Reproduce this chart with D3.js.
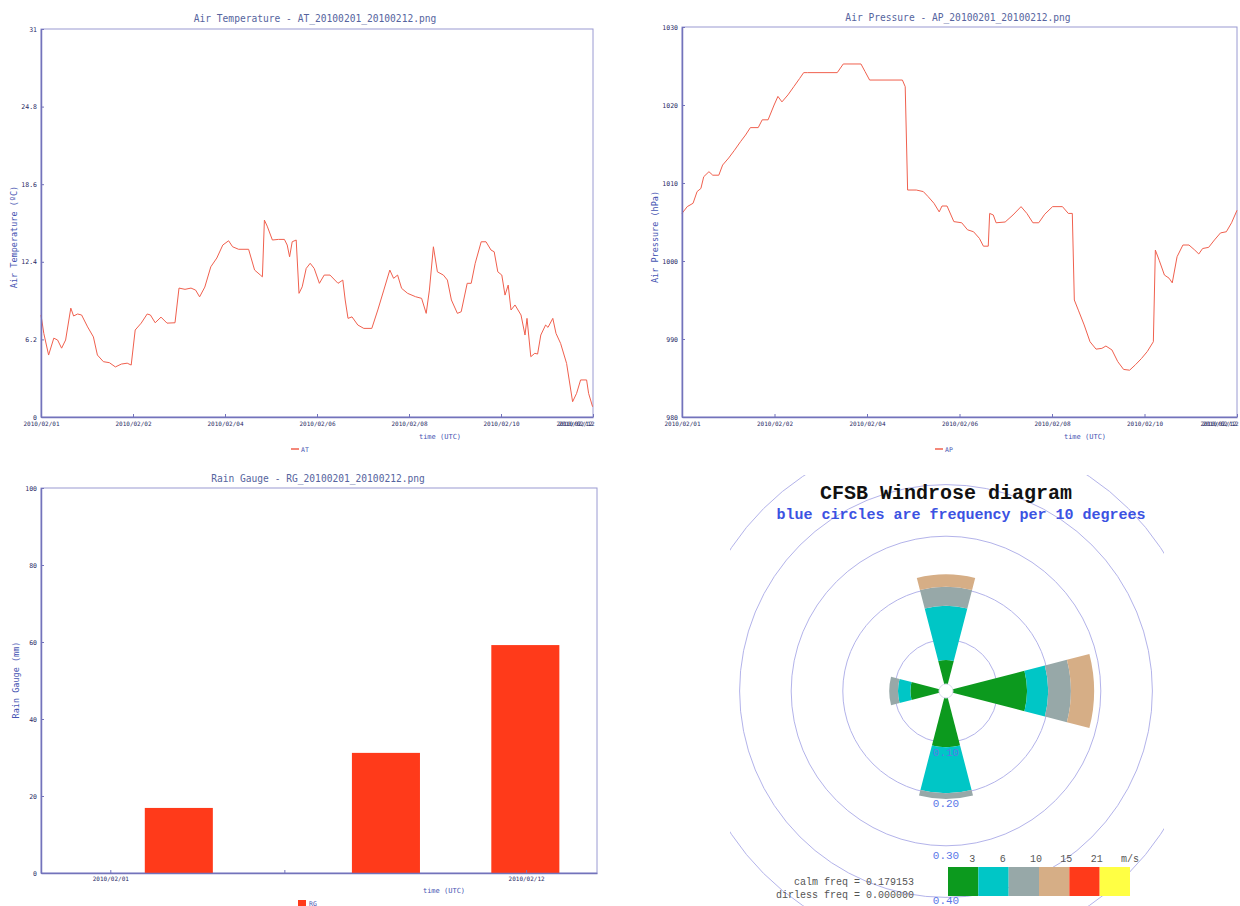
<!DOCTYPE html>
<html>
<head>
<meta charset="utf-8">
<script src="https://cdn.jsdelivr.net/npm/d3@7"></script>
<style>
  body { margin: 0; background: #fff; }
  svg { display: block; }
</style>
</head>
<body>
<svg id="chart" width="1240" height="906"></svg>
<script>
// ---- data ----------------------------------------------------------------
// hours after 2010-02-01 00:00 UTC
const spanHours = 276;
const tickHours = [0, 46, 92, 138, 184, 230, 276];

const atHours = [0, 1.4, 3.8, 6.4, 8.3, 10.3, 12.3, 14.9, 16.3, 18.3, 20.3, 23.3, 26.2, 28.2,
  31.2, 34.2, 37.2, 40.2, 43.1, 45.1, 47.1, 50.1, 53.1, 54.7, 57.1, 60.0, 63.0, 67.0, 69.0,
  72.0, 75.0, 77.3, 79.3, 81.9, 84.9, 87.9, 90.9, 93.8, 95.8, 98.8, 103.8, 106.8, 109.7, 110.7,
  111.7, 113.1, 115.7, 118.7, 121.7, 123.1, 124.3, 125.6, 127.6, 129.0, 130.6, 132.6, 134.6,
  136.6, 139.2, 141.6, 144.5, 148.5, 150.9, 152.1, 153.5, 155.5, 158.4, 161.4, 165.4, 168.4,
  171.4, 174.4, 176.3, 178.3, 180.3, 183.3, 187.3, 190.3, 192.6, 194.2, 196.2, 198.2, 201.2,
  203.2, 205.2, 208.2, 210.1, 213.1, 215.1, 217.1, 220.1, 222.5, 225.0, 226.6, 228.4, 230.4,
  232.0, 233.6, 235.0, 237.0, 240.0, 242.0, 243.0, 244.9, 246.9, 248.3, 249.9, 252.3, 253.5,
  255.9, 257.5, 259.8, 262.8, 265.8, 267.8, 269.8, 272.8, 273.8, 275.8];
const atValues = [8.15, 6.68, 4.95, 6.3, 6.15, 5.5, 6.15, 8.7, 8.07, 8.23, 8.15, 7.2, 6.4, 4.95,
  4.42, 4.34, 4.0, 4.23, 4.3, 4.15, 6.95, 7.5, 8.23, 8.15, 7.53, 7.98, 7.5, 7.53, 10.3,
  10.2, 10.3, 10.14, 9.6, 10.38, 12.0, 12.7, 13.74, 14.08, 13.6, 13.4, 13.4, 11.74, 11.34, 11.2,
  15.73, 15.25, 14.14, 14.19, 14.19, 13.74, 12.8, 14.0, 14.14, 9.88, 10.4, 11.87, 12.28,
  11.87, 10.68, 11.34, 11.34, 10.68, 10.94, 9.35, 7.88, 8.0, 7.35, 7.08, 7.08, 8.55,
  10.14, 11.74, 11.08, 11.34, 10.28, 9.88, 9.61, 9.48, 8.28, 10.14, 13.6, 11.6, 11.34,
  10.94, 9.35, 8.28, 8.41, 10.68, 10.68, 12.28, 14.0, 14.0, 13.34, 13.2, 11.6, 11.34,
  9.74, 10.54, 8.55, 8.95, 8.15, 6.55, 7.88, 4.82, 5.09, 5.03, 6.55, 7.35, 7.16,
  7.88, 6.68, 5.88, 4.28, 1.22, 1.89, 2.96, 2.96, 1.89, 0.82];
const atTicks = [0, 6.2, 12.4, 18.6, 24.8, 31];

const apHours = [0, 2.6, 5.5, 7.5, 9.4, 10.8, 13.4, 15.3, 18.3, 20.2, 23.2, 26.1, 29.1, 31.6,
  34.0, 37.9, 39.9, 42.8, 45.8, 47.7, 49.7, 52.7, 55.6, 58.5, 60.5, 62.5, 77.2, 80.2, 89.0,
  91.0, 93.3, 109.6, 111.0, 112.2, 116.5, 120.0, 122.4, 125.3, 127.9, 129.3, 131.8, 135.2,
  139.1, 142.0, 145.0, 147.9, 149.9, 152.3, 153.0, 154.8, 156.2, 160.7, 164.6, 168.6, 171.5,
  174.5, 177.4, 180.4, 184.3, 189.2, 192.1, 194.1, 195.1, 197.1, 200.0, 202.9, 205.9, 208.8,
  210.8, 213.8, 216.7, 219.6, 222.6, 225.5, 228.5, 231.4, 234.4, 235.4, 237.3, 239.9, 242.2,
  243.8, 246.2, 249.1, 252.1, 255.0, 257.0, 258.9, 261.9, 264.8, 267.8, 270.7, 273.3, 276.0];
const apValues = [1006.1, 1006.97, 1007.4, 1008.9, 1009.3, 1010.8, 1011.45, 1011.0, 1011.0,
  1012.3, 1013.2, 1014.2, 1015.3, 1016.15, 1017.1, 1017.1, 1018.1, 1018.1, 1020.0, 1021.1,
  1020.4, 1021.3, 1022.35, 1023.4, 1024.15, 1024.15, 1024.15, 1025.26, 1025.26, 1024.3,
  1023.2, 1023.2, 1022.35, 1009.1, 1009.1, 1008.9, 1008.25, 1007.4, 1006.3, 1007.05, 1007.05,
  1005.05, 1004.9, 1004.0, 1003.75, 1002.9, 1001.9, 1001.9, 1006.1, 1005.9, 1004.9, 1005.0,
  1005.9, 1006.97, 1006.1, 1004.9, 1004.9, 1006.0, 1006.97, 1006.97, 1006.1, 1006.1, 995.0,
  993.7, 991.8, 989.65, 988.7, 988.8, 989.1, 988.6, 987.1, 986.1, 986.0, 986.7, 987.5, 988.4,
  989.65, 1001.4, 1000.1, 998.2, 997.8, 997.2, 1000.55, 1002.05, 1002.05, 1001.4, 1000.9,
  1001.6, 1001.75, 1002.7, 1003.6, 1003.75, 1004.9, 1006.5];
const apTicks = [980, 990, 1000, 1010, 1020, 1030];

const rgDates = ['2010-02-02T19:30Z', '2010-02-08T07:00Z', '2010-02-11T23:30Z'];
const rgValues = [16.9, 31.2, 59.2];
const rgTickDates = ['2010-02-01T00:00Z', '2010-02-05T14:30Z', '2010-02-12T00:00Z'];
const rgTickLabels = ['2010/02/01', '', '2010/02/12'];
const rgTicks = [0, 20, 40, 60, 80, 100];

// windrose: frequency per speed class for each direction
const roseDirs = [0, 90, 180, 270];
const freqN = [0.060, 0.105, 0.037, 0.024, 0, 0];
const freqE = [0.157, 0.041, 0.044, 0.045, 0, 0];
const freqS = [0.109, 0.089, 0.011, 0, 0, 0];
const freqW = [0.069, 0.024, 0.017, 0, 0, 0];
const roseRings = [0.1, 0.2, 0.3, 0.4, 0.5];
const ringLabels = ['0.10', '0.20', '0.30', '0.40'];
const speedLabels = ['3', '6', '10', '15', '21', 'm/s'];
const speedColors = ['#0c9a1e', '#00c6c6', '#97a8a8', '#d6ae86', '#ff3a1a', '#ffff44'];

// ---- drawing ---------------------------------------------------------------
const mono = '"DejaVu Sans Mono", monospace';
const courier = '"Liberation Mono", "Courier New", monospace';
const frameColor = '#9a9ad2';
const axisColor = '#7373bb';
const tickColor = '#2a2a66';
const titleColor = '#56649e';
const yTitleColor = '#4654b2';
const lineColor = '#f0604e';

const t0 = Date.UTC(2010, 1, 1);
const hr = h => new Date(t0 + h * 36e5);
const fmt = d3.utcFormat('%Y/%m/%d');

const svg = d3.select('#chart');
svg.append('rect').attr('width', 1240).attr('height', 906).attr('fill', '#fff');

function styleAxis(g, size) {
  g.attr('font-family', mono).attr('font-size', size);
  g.select('.domain').attr('stroke', axisColor).attr('stroke-width', 1.5);
  g.selectAll('.tick line').attr('stroke', axisColor);
  g.selectAll('.tick text').attr('fill', tickColor);
}

function panelText(g, o) {
  g.append('text')
   .attr('x', o.titleX).attr('y', o.titleY)
   .attr('text-anchor', 'middle')
   .attr('font-family', mono).attr('font-size', 9.6)
   .attr('fill', titleColor)
   .text(o.title);

  g.append('text')
   .attr('transform', `translate(${o.yTitleX},${o.yTitleY}) rotate(-90)`)
   .attr('text-anchor', 'middle')
   .attr('font-family', mono).attr('font-size', 8.5)
   .attr('fill', yTitleColor)
   .text(o.yTitle);

  g.append('text')
   .attr('x', o.timeX).attr('y', o.timeY)
   .attr('text-anchor', 'middle')
   .attr('font-family', mono).attr('font-size', 7)
   .attr('fill', yTitleColor)
   .text('time (UTC)');
}

function frame(g, o) {
  g.append('rect')
   .attr('x', o.left).attr('y', o.top)
   .attr('width', o.right - o.left).attr('height', o.bottom - o.top)
   .attr('fill', 'none').attr('stroke', frameColor).attr('stroke-width', 1);
}

function seriesPanel(o) {
  let g = svg.append('g');
  let x = d3.scaleUtc([hr(0), hr(spanHours)], [o.left, o.right]);
  let y = d3.scaleLinear(o.yDomain, [o.bottom, o.top]);

  frame(g, o);

  g.append('path')
   .datum(d3.zip(o.hours, o.values))
   .attr('d', d3.line().x(d => x(hr(d[0]))).y(d => y(d[1])))
   .attr('fill', 'none')
   .attr('stroke', lineColor)
   .attr('stroke-width', 1);

  let xa = g.append('g')
            .attr('transform', `translate(0,${o.bottom})`)
            .call(d3.axisBottom(x)
                    .tickValues(tickHours.map(hr))
                    .tickFormat(fmt)
                    .tickSizeInner(-3).tickSizeOuter(0).tickPadding(5));
  styleAxis(xa, 6);

  // last label sits inside the frame, smeared over a second copy
  let last = xa.selectAll('.tick').filter((d, i, n) => i === n.length - 1);
  last.select('text').attr('text-anchor', 'end').attr('dx', 1);
  last.append('text')
      .attr('fill', tickColor).attr('y', 5).attr('dy', '0.71em')
      .attr('text-anchor', 'end').attr('dx', -1)
      .text(fmt(hr(spanHours)));

  let ya = g.append('g')
            .attr('transform', `translate(${o.left},0)`)
            .call(d3.axisLeft(y)
                    .tickValues(o.yTicks)
                    .tickFormat(d => String(d))
                    .tickSizeInner(-3).tickSizeOuter(0).tickPadding(4));
  styleAxis(ya, 6.5);

  panelText(g, o);

  // legend
  g.append('line')
   .attr('x1', o.legendX - 9).attr('x2', o.legendX - 1)
   .attr('y1', o.bottom + 32).attr('y2', o.bottom + 32)
   .attr('stroke', lineColor).attr('stroke-width', 1.5);
  g.append('text')
   .attr('x', o.legendX + 1).attr('y', o.bottom + 34.5)
   .attr('font-family', mono).attr('font-size', 6.5)
   .attr('fill', yTitleColor)
   .text(o.key);
}

seriesPanel({
  left: 41, right: 593, top: 29, bottom: 417,
  title: 'Air Temperature - AT_20100201_20100212.png', titleX: 315, titleY: 22,
  yTitle: 'Air Temperature (\u00baC)', yTitleX: 17, yTitleY: 237,
  timeX: 440, timeY: 439,
  hours: atHours, values: atValues, yDomain: [0, 31], yTicks: atTicks,
  legendX: 300, key: 'AT'
});

seriesPanel({
  left: 682, right: 1237, top: 27, bottom: 417,
  title: 'Air Pressure - AP_20100201_20100212.png', titleX: 958, titleY: 21,
  yTitle: 'Air Pressure (hPa)', yTitleX: 658, yTitleY: 237,
  timeX: 1085, timeY: 439,
  hours: apHours, values: apValues, yDomain: [980, 1030], yTicks: apTicks,
  legendX: 944, key: 'AP'
});

// ---- rain gauge bars ----
(function rainPanel() {
  let o = {
    left: 41, right: 597, top: 488, bottom: 873,
    title: 'Rain Gauge - RG_20100201_20100212.png', titleX: 318, titleY: 482,
    yTitle: 'Rain Gauge (mm)', yTitleX: 19, yTitleY: 680,
    timeX: 444, timeY: 893
  };
  let g = svg.append('g');
  let x = d3.scaleUtc([new Date('2010-01-30T04:00Z'), new Date('2010-02-13T21:00Z')],
                      [o.left, o.right]);
  let y = d3.scaleLinear([0, 100], [o.bottom, o.top]);
  let halfDay = 0.9 * 864e5;
  let t = d => +new Date(d);

  frame(g, o);

  g.selectAll('rect.bar')
   .data(d3.zip(rgDates, rgValues))
   .join('rect')
   .attr('class', 'bar')
   .attr('x', d => x(new Date(t(d[0]) - halfDay)))
   .attr('width', d => x(new Date(t(d[0]) + halfDay)) - x(new Date(t(d[0]) - halfDay)))
   .attr('y', d => y(d[1]))
   .attr('height', d => y(0) - y(d[1]))
   .attr('fill', '#ff3a1a');

  let xa = g.append('g')
            .attr('transform', `translate(0,${o.bottom})`)
            .call(d3.axisBottom(x)
                    .tickValues(rgTickDates.map(d => new Date(d)))
                    .tickFormat((d, i) => rgTickLabels[i])
                    .tickSizeInner(-3).tickSizeOuter(0).tickPadding(4));
  styleAxis(xa, 6);

  let ya = g.append('g')
            .attr('transform', `translate(${o.left},0)`)
            .call(d3.axisLeft(y)
                    .tickValues(rgTicks)
                    .tickFormat(d => String(d))
                    .tickSizeInner(-3).tickSizeOuter(0).tickPadding(4));
  styleAxis(ya, 6.5);

  panelText(g, o);

  g.append('rect')
   .attr('x', 298).attr('y', 900).attr('width', 8).attr('height', 6)
   .attr('fill', '#ff3a1a');
  g.append('text')
   .attr('x', 309).attr('y', 905.5)
   .attr('font-family', mono).attr('font-size', 6.5)
   .attr('fill', yTitleColor)
   .text('RG');
})();

// ---- windrose ----
(function windrose() {
  let cx = 946, cy = 691, halfWidth = 14.5;
  let r = d3.scaleLinear([0, 0.5], [0, 258]);
  let freqs = [freqN, freqE, freqS, freqW];

  svg.append('defs').append('clipPath').attr('id', 'roseClip')
     .append('rect').attr('x', 730).attr('y', 475).attr('width', 434).attr('height', 431);

  let g = svg.append('g').attr('clip-path', 'url(#roseClip)');

  g.selectAll('circle.ring')
   .data(roseRings)
   .join('circle')
   .attr('class', 'ring')
   .attr('cx', cx).attr('cy', cy)
   .attr('r', d => r(d))
   .attr('fill', 'none')
   .attr('stroke', '#b3b3ea')
   .attr('stroke-width', 1);

  let segments = roseDirs.flatMap((dir, i) => {
    let acc = d3.cumsum(freqs[i]);
    return freqs[i].map((f, k) => ({
      dir: dir, k: k,
      inner: k === 0 ? 0 : acc[k - 1],
      outer: acc[k]
    })).filter(s => s.outer > s.inner);
  });

  let arc = d3.arc();
  let rad = Math.PI / 180;
  g.append('g')
   .attr('transform', `translate(${cx},${cy})`)
   .selectAll('path')
   .data(segments)
   .join('path')
   .attr('d', s => arc({
     innerRadius: r(s.inner), outerRadius: r(s.outer),
     startAngle: (s.dir - halfWidth) * rad, endAngle: (s.dir + halfWidth) * rad
   }))
   .attr('fill', s => speedColors[s.k]);

  g.append('circle')
   .attr('cx', cx).attr('cy', cy).attr('r', 7)
   .attr('fill', '#fff').attr('stroke', '#dcdcef');

  svg.selectAll('text.ringlab')
   .data(ringLabels)
   .join('text')
   .attr('class', 'ringlab')
   .attr('x', cx)
   .attr('y', (d, i) => Math.min(cy + r(roseRings[i]) + 13, 904))
   .attr('text-anchor', 'middle')
   .attr('font-family', courier).attr('font-size', 11)
   .attr('fill', '#5a78e8')
   .text(d => d);

  svg.append('text')
     .attr('x', 946).attr('y', 499)
     .attr('text-anchor', 'middle')
     .attr('font-family', courier).attr('font-size', 20).attr('font-weight', 'bold')
     .attr('fill', '#111')
     .text('CFSB Windrose diagram');

  svg.append('text')
     .attr('x', 961).attr('y', 518.5)
     .attr('text-anchor', 'middle')
     .attr('font-family', courier).attr('font-size', 15).attr('font-weight', 'bold')
     .attr('fill', '#3b52e2')
     .text('blue circles are frequency per 10 degrees');

  // speed legend
  let band = d3.scaleBand(speedLabels, [948, 1130]);
  g.selectAll('rect.speed')
   .data(speedLabels)
   .join('rect')
   .attr('class', 'speed')
   .attr('x', d => band(d)).attr('y', 867)
   .attr('width', band.bandwidth()).attr('height', 29)
   .attr('fill', (d, i) => speedColors[i]);

  g.selectAll('text.speed')
   .data(speedLabels)
   .join('text')
   .attr('class', 'speed')
   .attr('x', d => band(d) + band.bandwidth() - 9)
   .attr('y', 861.5)
   .attr('font-family', courier).attr('font-size', 10)
   .attr('fill', '#555')
   .text(d => d);

  g.append('text')
   .attr('x', 914).attr('y', 884.5)
   .attr('text-anchor', 'end')
   .attr('font-family', courier).attr('font-size', 10)
   .attr('fill', '#555')
   .text('calm freq = 0.179153');
  g.append('text')
   .attr('x', 914).attr('y', 897.5)
   .attr('text-anchor', 'end')
   .attr('font-family', courier).attr('font-size', 10)
   .attr('fill', '#555')
   .text('dirless freq = 0.000000');
})();
</script>
</body>
</html>
